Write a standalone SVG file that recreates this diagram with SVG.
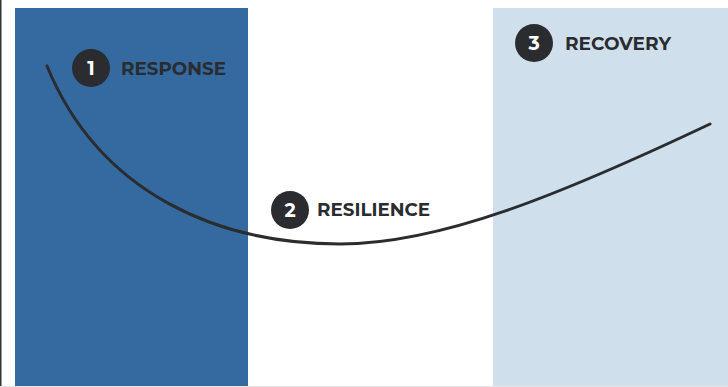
<svg xmlns="http://www.w3.org/2000/svg" width="728" height="387" viewBox="0 0 728 387">
<style>
.num{font-family:"Montserrat","Open Sans","Liberation Sans",sans-serif;font-weight:700;font-size:19px;fill:#ffffff;text-anchor:middle}
.lbl{font-family:"Montserrat","Open Sans","Liberation Sans",sans-serif;font-weight:700;font-size:18px;fill:#2a2c2f}
.badge{fill:#2a2c2f}
</style>
<rect x="0" y="0" width="728" height="387" fill="#ffffff"/>
<rect x="0" y="0" width="1.5" height="387" fill="#333333"/>
<g id="phase-response">
<rect x="15" y="8" width="233" height="379" fill="#346a9f"/>
</g>
<g id="phase-recovery">
<rect x="493" y="8" width="235" height="379" fill="#cfe0ec"/>
</g>
<rect x="0" y="386" width="728" height="1" fill="#e6e6e6"/>
<g id="connectors">
<path d="M47,66 C100,195 220,244 340,244 C440,244 560,195 710,124" fill="none" stroke="#2a2c2f" stroke-width="3" stroke-linecap="round"/>
</g>
<g id="node-1">
<circle class="badge" cx="91" cy="68" r="19"/>
<text class="num" x="91" y="75">1</text>
<text class="lbl" x="121" y="75" textLength="105" lengthAdjust="spacingAndGlyphs">RESPONSE</text>
</g>
<g id="node-2">
<circle class="badge" cx="290" cy="210" r="19"/>
<text class="num" x="290" y="217">2</text>
<text class="lbl" x="317" y="216" textLength="113" lengthAdjust="spacingAndGlyphs">RESILIENCE</text>
</g>
<g id="node-3">
<circle class="badge" cx="534" cy="43" r="19"/>
<text class="num" x="534" y="50">3</text>
<text class="lbl" x="565" y="50" textLength="106" lengthAdjust="spacingAndGlyphs">RECOVERY</text>
</g>
</svg>
